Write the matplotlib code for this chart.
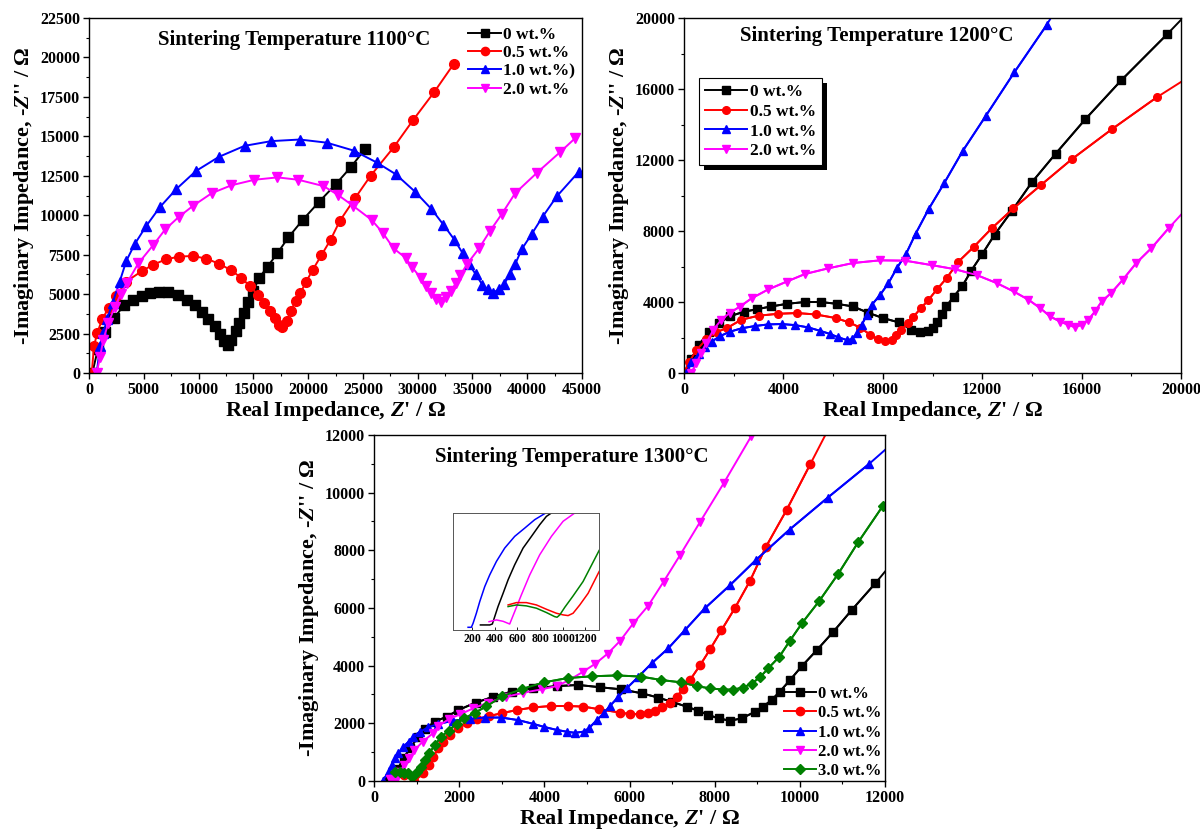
import matplotlib
matplotlib.use("Agg")
import matplotlib.pyplot as plt
from matplotlib.ticker import MultipleLocator
from matplotlib.patches import Rectangle
from matplotlib.transforms import IdentityTransform

plt.rcParams['font.family'] = ['Liberation Serif', 'DejaVu Serif']
plt.rcParams['font.weight'] = 'bold'
plt.rcParams['mathtext.fontset'] = 'custom'
plt.rcParams['mathtext.rm'] = 'Liberation Serif:bold'
plt.rcParams['mathtext.it'] = 'Liberation Serif:italic:bold'
plt.rcParams['mathtext.bf'] = 'Liberation Serif:bold'

# ---------------- 1100 C ----------------
labels_1100 = ["0 wt.%", "0.5 wt.%", "1.0 wt.%)", "2.0 wt.%"]
x_1100_0 = [300, 800, 1500, 2300, 3200, 4000, 4800, 5600, 6400, 7200, 8100, 8900, 9700, 10300, 10900, 11500, 11950, 12350, 12650, 13000, 13400, 13700, 14100, 14500, 15000, 15500, 16300, 17200, 18200, 19500, 21000, 22500, 23900, 25200]
y_1100_0 = [0, 1500, 2600, 3500, 4300, 4650, 4900, 5050, 5150, 5120, 4950, 4650, 4300, 3900, 3450, 2950, 2450, 2050, 1800, 2100, 2650, 3150, 3800, 4500, 5200, 6000, 6750, 7600, 8600, 9700, 10850, 11950, 13050, 14200]
x_1100_05 = [250, 450, 750, 1200, 1800, 2500, 3400, 4800, 5800, 7000, 8200, 9500, 10700, 11900, 13000, 13900, 14700, 15400, 16000, 16500, 16950, 17350, 17650, 18050, 18400, 18850, 19300, 19800, 20400, 21200, 22050, 22900, 24300, 25700, 27800, 29600, 31500, 33300]
y_1100_05 = [0, 1700, 2550, 3400, 4150, 4900, 5800, 6450, 6850, 7200, 7380, 7420, 7250, 6920, 6500, 6030, 5500, 4970, 4450, 3920, 3480, 3070, 2900, 3280, 3920, 4550, 5080, 5760, 6520, 7450, 8450, 9650, 11100, 12500, 14300, 16050, 17800, 19600]
x_1100_10 = [700, 1000, 1300, 1650, 2150, 2800, 3400, 4150, 5200, 6450, 7950, 9750, 11850, 14200, 16650, 19250, 21700, 24150, 26250, 28000, 29750, 31250, 32350, 33350, 34100, 34700, 35300, 35900, 36400, 36900, 37400, 37900, 38400, 38900, 39500, 40400, 41400, 42700, 44700]
y_1100_10 = [0, 1700, 2550, 3400, 4450, 5800, 7100, 8150, 9300, 10500, 11650, 12800, 13700, 14400, 14700, 14800, 14600, 14100, 13350, 12600, 11500, 10400, 9400, 8450, 7600, 6900, 6250, 5600, 5300, 5100, 5300, 5650, 6250, 6900, 7850, 8800, 9900, 11200, 12750]
x_1100_20 = [700, 1000, 1300, 1750, 2350, 2900, 3450, 4500, 5850, 6950, 8200, 9500, 11200, 13000, 15100, 17200, 19100, 21400, 22700, 24100, 25800, 26800, 27800, 28900, 29500, 30300, 30800, 31200, 31700, 32100, 32600, 33000, 33500, 33900, 34500, 35600, 36600, 37700, 38900, 40900, 43000, 44400]
y_1100_20 = [0, 1000, 2100, 3150, 4200, 5000, 5700, 6950, 8100, 9100, 9900, 10600, 11400, 11900, 12250, 12400, 12250, 11850, 11300, 10600, 9700, 8900, 7900, 7300, 6700, 6000, 5500, 5100, 4700, 4500, 4800, 5200, 5700, 6200, 6900, 7900, 9000, 10100, 11400, 12700, 14000, 14900]

# ---------------- 1200 C ----------------
labels_1200 = ["0 wt.%", "0.5 wt.%", "1.0 wt.%", "2.0 wt.%"]
x_1200_0 = [100, 300, 600, 1000, 1400, 1850, 2400, 2950, 3500, 4150, 4850, 5500, 6150, 6800, 7400, 8000, 8650, 9150, 9500, 9800, 10000, 10200, 10400, 10550, 10850, 11200, 11550, 12000, 12500, 13200, 14000, 14950, 16150, 17600, 19450]
y_1200_0 = [0, 800, 1600, 2300, 2800, 3200, 3450, 3600, 3750, 3900, 4000, 4000, 3900, 3750, 3400, 3100, 2850, 2450, 2300, 2350, 2550, 2900, 3300, 3750, 4300, 4900, 5750, 6700, 7800, 9150, 10750, 12350, 14300, 16500, 19100]
x_1200_05 = [0, 200, 500, 900, 1300, 1750, 2300, 3000, 3800, 4550, 5300, 6100, 6650, 7100, 7500, 7800, 8100, 8350, 8550, 8750, 9000, 9230, 9530, 9830, 10200, 10570, 11040, 11670, 12380, 13250, 14370, 15600, 17210, 19020]
y_1200_05 = [0, 600, 1300, 1900, 2300, 2550, 3000, 3230, 3340, 3380, 3300, 3100, 2850, 2550, 2150, 1900, 1800, 1880, 2150, 2450, 2800, 3170, 3650, 4110, 4750, 5350, 6270, 7120, 8150, 9270, 10600, 12040, 13730, 15530]
x_1200_10 = [100, 300, 600, 850, 1110, 1450, 1850, 2320, 2860, 3390, 3930, 4470, 5000, 5470, 5880, 6210, 6550, 6750, 6950, 7150, 7350, 7550, 7890, 8220, 8560, 8930, 9320, 9850, 10470, 11210, 12150, 13290, 14590]
y_1200_10 = [0, 600, 1100, 1450, 1770, 2080, 2330, 2520, 2650, 2740, 2760, 2700, 2570, 2380, 2200, 2010, 1860, 1900, 2230, 2700, 3270, 3830, 4400, 5050, 5900, 6700, 7850, 9250, 10700, 12500, 14500, 16940, 19600]
x_1200_20 = [300, 500, 700, 900, 1180, 1500, 1850, 2250, 2720, 3390, 4130, 4870, 5810, 6810, 7900, 8900, 9970, 10900, 11780, 12580, 13260, 13860, 14330, 14730, 15130, 15460, 15730, 16000, 16270, 16540, 16810, 17190, 17660, 18200, 18810, 19510]
y_1200_20 = [0, 560, 1130, 1690, 2440, 3000, 3400, 3740, 4210, 4710, 5150, 5580, 5900, 6200, 6350, 6330, 6080, 5850, 5520, 5070, 4600, 4130, 3660, 3190, 2900, 2720, 2580, 2720, 3000, 3470, 4040, 4510, 5260, 6200, 7040, 8170]

# ---------------- 1300 C ----------------
labels_1300 = ["0 wt.%", "0.5 wt.%", "1.0 wt.%", "2.0 wt.%", "3.0 wt.%"]
x_1300_0 = [300, 400, 550, 700, 850, 1040, 1200, 1430, 1710, 1980, 2390, 2800, 3230, 3740, 4290, 4800, 5310, 5790, 6290, 6680, 7000, 7340, 7620, 7850, 8090, 8360, 8630, 8950, 9140, 9340, 9530, 9770, 10040, 10400, 10790, 11220, 11770]
y_1300_0 = [0, 0, 400, 800, 1150, 1540, 1800, 2060, 2230, 2460, 2720, 2920, 3100, 3210, 3290, 3330, 3250, 3180, 3040, 2890, 2740, 2580, 2430, 2290, 2170, 2090, 2170, 2400, 2580, 2810, 3100, 3500, 3970, 4540, 5180, 5930, 6850]
x_1300_05 = [520, 700, 950, 1160, 1280, 1390, 1510, 1630, 1780, 1980, 2180, 2410, 2700, 3000, 3350, 3740, 4150, 4560, 4910, 5280, 5780, 6010, 6250, 6440, 6600, 6760, 6950, 7110, 7260, 7420, 7660, 7890, 8160, 8480, 8830, 9200, 9690, 10250]
y_1300_05 = [300, 200, 0, 270, 550, 840, 1130, 1360, 1590, 1830, 2000, 2140, 2250, 2350, 2460, 2550, 2600, 2600, 2580, 2490, 2370, 2320, 2320, 2340, 2430, 2550, 2690, 2920, 3200, 3500, 4020, 4560, 5230, 6010, 6940, 8110, 9400, 11000]
x_1300_10 = [200, 350, 430, 500, 570, 690, 810, 920, 1080, 1270, 1510, 1860, 2250, 2600, 2990, 3390, 3740, 3980, 4290, 4520, 4720, 4920, 5040, 5230, 5390, 5540, 5740, 5930, 6200, 6520, 6910, 7300, 7770, 8360, 8980, 9760, 10650, 11630]
y_1300_10 = [0, 330, 560, 790, 960, 1190, 1360, 1540, 1710, 1860, 1980, 2090, 2150, 2200, 2200, 2110, 1980, 1880, 1770, 1710, 1670, 1710, 1820, 2110, 2340, 2600, 2920, 3210, 3600, 4080, 4600, 5230, 5990, 6790, 7680, 8720, 9820, 11000]
x_1300_20 = [380, 450, 520, 600, 700, 830, 950, 1140, 1380, 1510, 1750, 2020, 2330, 2680, 3110, 3510, 3940, 4290, 4560, 4900, 5200, 5490, 5780, 6090, 6440, 6800, 7190, 7660, 8210, 8860]
y_1300_20 = [80, 80, 40, 300, 550, 790, 1070, 1360, 1650, 1900, 2140, 2310, 2520, 2720, 2920, 3060, 3180, 3290, 3480, 3780, 4070, 4420, 4860, 5470, 6080, 6910, 7840, 8990, 10320, 11960]
x_1300_30 = [500, 600, 700, 800, 880, 1000, 1100, 1190, 1290, 1430, 1570, 1750, 1940, 2120, 2360, 2640, 3010, 3480, 3990, 4550, 5110, 5710, 6270, 6750, 7210, 7580, 7890, 8200, 8440, 8670, 8870, 9060, 9260, 9520, 9770, 10060, 10460, 10900, 11370, 11950]
y_1300_30 = [300, 300, 290, 270, 150, 300, 500, 730, 960, 1240, 1530, 1740, 1990, 2170, 2360, 2590, 2940, 3190, 3420, 3570, 3630, 3660, 3620, 3500, 3420, 3290, 3210, 3170, 3170, 3240, 3380, 3590, 3910, 4310, 4870, 5490, 6250, 7180, 8280, 9540]

# inset (zoom of the 1300 C low-Z' region; vertical axis unlabelled)
inset_blue_x = [165, 194, 209, 238, 268, 312, 356, 415, 488, 576, 665, 753, 850]
inset_blue_y = [2.3, 2.3, 5.7, 14.3, 24.3, 37.1, 47.1, 58.6, 70, 80, 87.1, 94.3, 100]
inset_black_x = [274, 356, 379, 400, 429, 474, 518, 576, 650, 724, 797, 856, 900]
inset_black_y = [4.3, 4.3, 5.1, 11.4, 20, 31.4, 42.9, 55.7, 70, 80, 90, 97.1, 100]
inset_mag_x = [350, 415, 474, 532, 576, 635, 709, 797, 900, 1003, 1106]
inset_mag_y = [7.1, 8.6, 7.4, 5.1, 15.7, 30, 47.1, 64.3, 80, 92.9, 100]
inset_red_x = [518, 591, 679, 768, 856, 944, 1003, 1047, 1091, 1150, 1224, 1321]
inset_red_y = [21.4, 23.4, 23.4, 21.4, 17.7, 14.3, 12.9, 12.3, 14.3, 21.4, 31.4, 50]
inset_green_x = [518, 591, 679, 768, 856, 929, 950, 974, 1018, 1091, 1179, 1321]
inset_green_y = [20, 21.4, 20.6, 18.6, 14.9, 11.4, 10.9, 12.9, 19.4, 29.1, 41.4, 68]
inset_ticks = [200, 400, 600, 800, 1000, 1200]

BLACK, RED, BLUE, MAG, GREEN = "#000000", "#FF0000", "#0000FF", "#FF00FF", "#008000"

fig = plt.figure(figsize=(12, 8.31), dpi=100)

ylab = "-Imaginary Impedance, -$\\it{Z}$'' / \u03a9"
xlab = "Real Impedance, $\\it{Z}$' / \u03a9"
TITLE_FS = 15
LEG_FS = 12.5


def style(ax, xmax, ymax, xmaj, ymaj, fs_tick=11.5):
    ax.set_xlim(0, xmax)
    ax.set_ylim(0, ymax)
    ax.xaxis.set_major_locator(MultipleLocator(xmaj))
    ax.xaxis.set_minor_locator(MultipleLocator(xmaj / 2))
    ax.yaxis.set_major_locator(MultipleLocator(ymaj))
    ax.yaxis.set_minor_locator(MultipleLocator(ymaj / 2))
    ax.tick_params(which='major', direction='out', length=4, width=1.0, labelsize=fs_tick, pad=2.5)
    ax.tick_params(which='minor', direction='out', length=2.5, width=0.8)
    for s in ax.spines.values():
        s.set_linewidth(1.0)
    for lab in ax.get_xticklabels() + ax.get_yticklabels():
        lab.set_fontweight('bold')
    ax.set_xlabel(xlab, fontsize=16, fontweight='bold', labelpad=1)
    ax.set_ylabel(ylab, fontsize=16, fontweight='bold', labelpad=3)


lw = 1.4
# ---- panel 1 ----
ax1 = fig.add_axes([0.0742, 0.5511, 0.4108, 0.4272])
ms1 = 7
ax1.plot(x_1100_0, y_1100_0, '-s', color=BLACK, lw=lw, ms=ms1, label=labels_1100[0])
ax1.plot(x_1100_05, y_1100_05, '-o', color=RED, lw=lw, ms=ms1, label=labels_1100[1])
ax1.plot(x_1100_10, y_1100_10, '-^', color=BLUE, lw=lw, ms=ms1, label=labels_1100[2])
ax1.plot(x_1100_20, y_1100_20, '-v', color=MAG, lw=lw, ms=ms1, label=labels_1100[3])
style(ax1, 45000, 22500, 5000, 2500)
ax1.text(0.416, 0.937, "Sintering Temperature 1100\u00b0C", transform=ax1.transAxes,
         ha='center', va='center', fontsize=TITLE_FS, fontweight='bold')
ax1.legend(loc='upper left', bbox_to_anchor=(0.762, 0.985), frameon=False,
           handlelength=1.9, handletextpad=0.1, labelspacing=0.12, borderaxespad=0,
           borderpad=0.2, markerscale=0.85, prop={'weight': 'bold', 'size': LEG_FS})

# ---- panel 2 ----
ax2 = fig.add_axes([0.57, 0.5511, 0.4142, 0.4272])
ms2 = 5.5
ax2.plot(x_1200_0 + [20000], y_1200_0 + [19900], '-', color=BLACK, lw=lw)
ax2.plot(x_1200_05 + [20000], y_1200_05 + [16400], '-', color=RED, lw=lw)
ax2.plot(x_1200_10 + [14800], y_1200_10 + [20100], '-', color=BLUE, lw=lw)
ax2.plot(x_1200_20 + [20000], y_1200_20 + [8920], '-', color=MAG, lw=lw)
h0, = ax2.plot(x_1200_0, y_1200_0, '-s', color=BLACK, lw=lw, ms=ms2, label=labels_1200[0])
h1, = ax2.plot(x_1200_05, y_1200_05, '-o', color=RED, lw=lw, ms=ms2, label=labels_1200[1])
h2, = ax2.plot(x_1200_10, y_1200_10, '-^', color=BLUE, lw=lw, ms=ms2, label=labels_1200[2])
h3, = ax2.plot(x_1200_20, y_1200_20, '-v', color=MAG, lw=lw, ms=ms2, label=labels_1200[3])
style(ax2, 20000, 20000, 4000, 4000)
ax2.text(0.387, 0.948, "Sintering Temperature 1200\u00b0C", transform=ax2.transAxes,
         ha='center', va='center', fontsize=TITLE_FS, fontweight='bold')
leg2 = ax2.legend(handles=[h0, h1, h2, h3], loc='upper left', bbox_to_anchor=(0.030, 0.831),
                  frameon=True, fancybox=False, shadow=False, framealpha=1.0,
                  edgecolor='black', handlelength=2.4, handletextpad=0.2,
                  labelspacing=0.2, borderpad=0.35, borderaxespad=0,
                  prop={'weight': 'bold', 'size': LEG_FS})
leg2.get_frame().set_linewidth(0.8)

# ---- panel 3 ----
ax3 = fig.add_axes([0.3117, 0.0602, 0.4258, 0.4164])
ms3 = 6
ax3.plot(x_1300_0 + [12000], y_1300_0 + [7260], '-', color=BLACK, lw=lw)
ax3.plot(x_1300_05 + [10600], y_1300_05 + [12000], '-', color=RED, lw=lw)
ax3.plot(x_1300_10 + [12000], y_1300_10 + [11480], '-', color=BLUE, lw=lw)
ax3.plot(x_1300_30 + [12000], y_1300_30 + [9600], '-', color=GREEN, lw=lw)
g0, = ax3.plot(x_1300_0, y_1300_0, '-s', color=BLACK, lw=lw, ms=ms3, label=labels_1300[0])
g1, = ax3.plot(x_1300_05, y_1300_05, '-o', color=RED, lw=lw, ms=ms3, label=labels_1300[1])
g2, = ax3.plot(x_1300_10, y_1300_10, '-^', color=BLUE, lw=lw, ms=ms3, label=labels_1300[2])
g3, = ax3.plot(x_1300_20, y_1300_20, '-v', color=MAG, lw=lw, ms=ms3, label=labels_1300[3])
g4, = ax3.plot(x_1300_30, y_1300_30, '-D', color=GREEN, lw=lw, ms=5, label=labels_1300[4])
style(ax3, 12000, 12000, 2000, 2000)
ax3.text(0.386, 0.936, "Sintering Temperature 1300\u00b0C", transform=ax3.transAxes,
         ha='center', va='center', fontsize=TITLE_FS, fontweight='bold')
ax3.legend(handles=[g0, g1, g2, g3, g4], loc='lower left', bbox_to_anchor=(0.800, 0.0),
           frameon=False, handlelength=1.9, handletextpad=0.1, labelspacing=0.2,
           borderaxespad=0, borderpad=0.1, prop={'weight': 'bold', 'size': 12})

# inset
axi = fig.add_axes([0.3775, 0.2419, 0.1217, 0.1408])
ilw = 1.1
axi.plot(inset_blue_x, inset_blue_y, '-', color=BLUE, lw=ilw)
axi.plot(inset_black_x, inset_black_y, '-', color=BLACK, lw=ilw)
axi.plot(inset_mag_x, inset_mag_y, '-', color=MAG, lw=ilw)
axi.plot(inset_red_x, inset_red_y, '-', color=RED, lw=ilw)
axi.plot(inset_green_x, inset_green_y, '-', color=GREEN, lw=ilw)
axi.set_xlim(32, 1320)
axi.set_ylim(0, 100)
axi.set_xticks(inset_ticks)
axi.set_yticks([])
axi.tick_params(axis='x', direction='in', length=2, width=0.6, labelsize=8.5, pad=2)
for lab in axi.get_xticklabels():
    lab.set_fontweight('bold')
for s in axi.spines.values():
    s.set_linewidth(0.7)
    s.set_color('#555555')

# solid black drop shadow behind the 1200 C legend box
fig.canvas.draw()
bb = leg2.get_frame().get_window_extent(fig.canvas.get_renderer())
shadow = Rectangle((bb.x0 + 5, bb.y0 - 5), bb.width, bb.height, transform=IdentityTransform(),
                   facecolor='black', edgecolor='none', zorder=4.9, clip_on=False)
ax2.add_patch(shadow)
leg2.set_zorder(5)

fig.savefig("out.png", dpi=100)
